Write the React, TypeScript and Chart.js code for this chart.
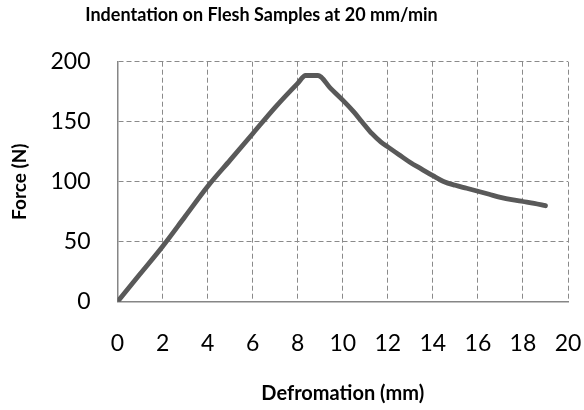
import React, { useEffect, useRef } from "react";
import { Chart, registerables } from "chart.js";

Chart.register(...registerables);

const deformation = [0, 1, 2, 3, 4, 5, 6, 7, 8, 8.35, 8.9, 9.45, 10, 10.5, 10.85, 11.3, 11.7, 12, 12.5, 13, 13.5, 14, 14.5, 15, 15.5, 16, 16.5, 17, 17.5, 18, 18.5, 19];
const force = [0, 23, 46, 71, 96, 118, 140, 162, 182, 188.5, 188.5, 178, 168, 158, 150, 140, 133, 129, 122.5, 116, 110.5, 105, 100, 97, 94.5, 92, 89.5, 87, 85, 83.5, 82, 80];

const titleText = "Indentation on Flesh Samples at 20 mm/min";
const xTitle = "Defromation (mm)";
const yTitle = "Force (N)";

const FONT = "Lato";

const titlePlugin = {
  id: "placedTitle",
  afterDraw: (c: any) => {
    const ctx = c.ctx;
    ctx.save();
    ctx.font = `bold 18px ${FONT}`;
    ctx.fillStyle = "#000";
    ctx.textAlign = "center";
    ctx.textBaseline = "middle";
    ctx.fillText(titleText, 261.5, 15.5);
    ctx.restore();
  },
};

export default function App() {
  const ref = useRef<HTMLCanvasElement | null>(null);
  useEffect(() => {
    document.body.style.margin = "0";
    const canvas = ref.current;
    if (!canvas) return;
    const data = deformation.map((x, i) => ({ x, y: force[i] }));
    const chart = new Chart(canvas, {
      type: "line",
      data: {
        datasets: [
          {
            data,
            borderColor: "#595959",
            borderWidth: 4.8,
            pointRadius: 0,
            cubicInterpolationMode: "monotone",
            fill: false,
            borderCapStyle: "round",
            borderJoinStyle: "round",
          },
        ],
      },
      options: {
        responsive: false,
        animation: false,
        layout: { padding: { left: 0, right: 16, top: 61.7, bottom: 0 } },
        plugins: {
          legend: { display: false },
          tooltip: { enabled: false },
          title: { display: false },
        },
        scales: {
          x: {
            type: "linear",
            min: 0,
            max: 20,
            afterFit: (s: any) => {
              s.height = 108.3;
              s.paddingLeft = 0;
              s.paddingRight = 0;
            },
            ticks: {
              stepSize: 2,
              color: "#000",
              font: { family: FONT, size: 23 },
              padding: 28,
              maxRotation: 0,
            },
            grid: {
              drawTicks: false,
              color: "#8a8a8a",
              lineWidth: 1,
            },
            border: { display: true, color: "#868686", width: 1.5, dash: [5, 3] },
            title: {
              display: true,
              text: xTitle,
              color: "#000",
              font: { family: FONT, size: 20, weight: "bold" },
              padding: { top: 0, bottom: 4.5 },
            },
          },
          y: {
            type: "linear",
            min: 0,
            max: 200,
            afterFit: (s: any) => {
              s.width = 117.5;
              s.paddingTop = 0;
              s.paddingBottom = 0;
            },
            ticks: {
              stepSize: 50,
              color: "#000",
              font: { family: FONT, size: 23 },
              padding: 27,
            },
            grid: {
              drawTicks: false,
              color: "#8a8a8a",
              lineWidth: 1,
            },
            border: { display: true, color: "#868686", width: 1.5, dash: [5, 3] },
            title: {
              display: true,
              text: yTitle,
              color: "#000",
              font: { family: FONT, size: 19, weight: "bold" },
              padding: { top: 8, bottom: 0 },
            },
          },
        },
      },
      plugins: [titlePlugin],
    });
    return () => chart.destroy();
  }, []);
  return <canvas ref={ref} width={584} height={410} />;
}
